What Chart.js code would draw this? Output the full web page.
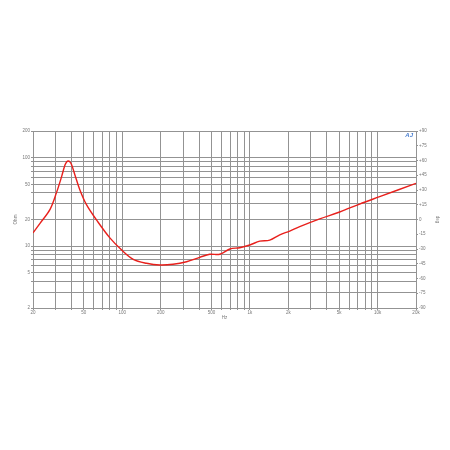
<!DOCTYPE html>
<html lang="en">
<head>
    <meta charset="UTF-8">
    <title>Impedance</title>
    <script src="https://cdn.jsdelivr.net/npm/chart.js"></script>
    <style>
        html, body { margin: 0; padding: 0; background: #fff; }
        #wrap { position: relative; width: 450px; height: 450px; }
    </style>
</head>
<body>
    <div id="wrap"><canvas id="myChart" width="450" height="450"></canvas></div>

    <script>
        // impedance curve (Hz, ohm)
        const freqHz = [20, 22.7, 27.2, 30.6, 33.5, 35.6, 36.8, 37.8, 38.9, 40.2, 42.6, 46.6, 52.6, 63, 80, 99, 122, 155, 197, 250, 319, 405, 485, 581, 696, 833, 998, 1195, 1431, 1713, 2051, 2456, 3521, 5050, 7240, 10380, 20000];
        const impedanceOhm = [14.1, 18.1, 26, 40.5, 61, 82.6, 90, 91.6, 89.5, 82.6, 63.7, 43.1, 29.2, 19.7, 12.4, 9.04, 7.1, 6.4, 6.12, 6.24, 6.67, 7.48, 8.09, 8.09, 9.28, 9.6, 10.3, 11.4, 11.7, 13.4, 14.8, 16.6, 20.3, 24.3, 29.9, 36.2, 51.3];

        // grid / tick values
        const xTicks = [20, 30, 40, 50, 60, 70, 80, 90, 100, 200, 300, 400, 500, 600, 700, 800, 900, 1000, 2000, 3000, 4000, 5000, 6000, 7000, 8000, 9000, 10000, 20000];
        const xLabels = { 20: '20', 50: '50', 100: '100', 200: '200', 500: '500', 1000: '1k', 2000: '2k', 5000: '5k', 10000: '10k', 20000: '20k' };
        const yTicks = [2, 3, 4, 5, 6, 7, 8, 9, 10, 20, 30, 40, 50, 60, 70, 80, 90, 100, 200];
        const yLabels = [2, 5, 10, 20, 50, 100, 200];
        const phaseTicks = [-90, -75, -60, -45, -30, -15, 0, 15, 30, 45, 60, 75, 90];

        const gridColor = '#939393';
        const tickFont = { family: 'Liberation Sans', size: 4.5 };

        // small logo top right
        const logo = {
            id: 'logo',
            afterDraw(chart) {
                const c = chart.ctx;
                c.save();
                c.fillStyle = '#4a7fd0';
                c.font = 'italic bold 6px "Liberation Sans"';
                c.textAlign = 'right';
                c.fillText('AJ', chart.chartArea.right - 3, chart.chartArea.top + 6);
                c.restore();
            }
        };

        const ctx = document.getElementById('myChart').getContext('2d');
        const chart = new Chart(ctx, {
            type: 'line',
            data: {
                datasets: [{
                    label: 'Impedance',
                    data: freqHz.map((f, i) => ({ x: f, y: impedanceOhm[i] })),
                    borderColor: '#e8201c',
                    borderWidth: 1.4,
                    pointRadius: 0,
                    tension: 0.35,
                    fill: false,
                    yAxisID: 'y'
                }]
            },
            options: {
                responsive: false,
                animation: false,
                layout: { padding: { left: 13, right: 10, top: 131, bottom: 130 } },
                plugins: { legend: { display: false }, tooltip: { enabled: false } },
                scales: {
                    x: {
                        type: 'logarithmic',
                        min: 20,
                        max: 20000,
                        afterBuildTicks: s => { s.ticks = xTicks.map(v => ({ value: v })); },
                        afterFit: s => { s.height = 12; },
                        grid: { color: gridColor, lineWidth: 1, tickLength: 2 },
                        border: { color: gridColor },
                        ticks: {
                            autoSkip: false, maxRotation: 0, padding: 0,
                            color: '#777', font: tickFont,
                            callback: v => xLabels[v] || ''
                        },
                        title: { display: true, text: 'Hz', color: '#777', font: tickFont, padding: 0 }
                    },
                    y: {
                        type: 'logarithmic',
                        position: 'left',
                        min: 2,
                        max: 200,
                        afterBuildTicks: s => { s.ticks = yTicks.map(v => ({ value: v })); },
                        afterFit: s => { s.width = 20; },
                        grid: { color: gridColor, lineWidth: 1, tickLength: 2 },
                        border: { color: gridColor },
                        ticks: {
                            autoSkip: false, padding: 1,
                            color: '#777', font: tickFont,
                            callback: v => yLabels.includes(v) ? String(v) : ''
                        },
                        title: { display: true, text: 'Ohm', color: '#777', font: tickFont, padding: 0 }
                    },
                    phase: {
                        type: 'linear',
                        position: 'right',
                        min: -90,
                        max: 90,
                        afterBuildTicks: s => { s.ticks = phaseTicks.map(v => ({ value: v })); },
                        afterFit: s => { s.width = 24; },
                        grid: { drawOnChartArea: false, color: gridColor, tickLength: 2 },
                        border: { color: gridColor },
                        ticks: {
                            autoSkip: false, padding: 1,
                            color: '#777', font: tickFont,
                            callback: v => v > 0 ? '+' + v : String(v)
                        },
                        title: { display: true, text: 'deg', color: '#777', font: tickFont, padding: 0 }
                    }
                }
            },
            plugins: [logo]
        });
    </script>
</body>
</html>
